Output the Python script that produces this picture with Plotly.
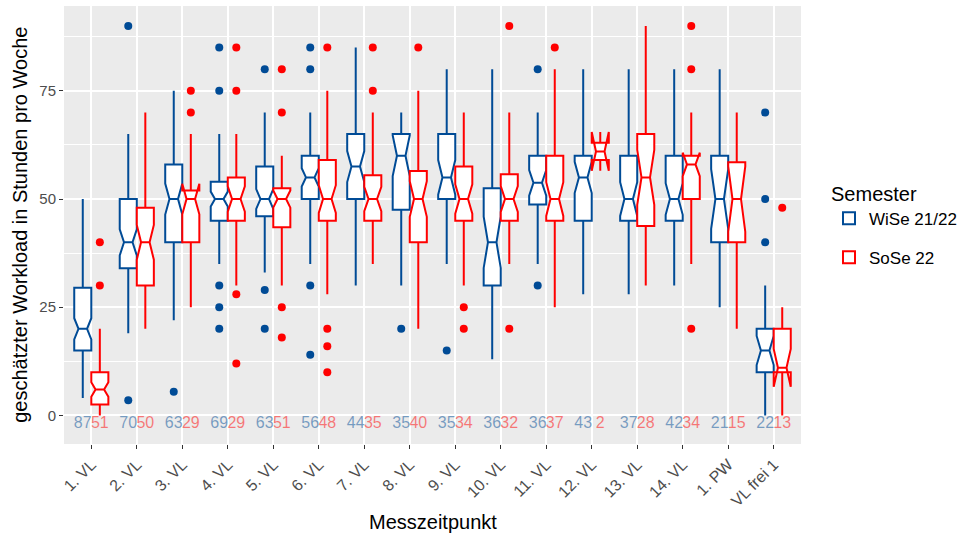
import math
import plotly.graph_objects as go

categories = ["1. VL", "2. VL", "3. VL", "4. VL", "5. VL", "6. VL", "7. VL", "8. VL",
              "9. VL", "10. VL", "11. VL", "12. VL", "13. VL", "14. VL", "1. PW", "VL frei 1"]

# WiSe 21/22
wise_lower = [4, 19, 22, 35, 33, 35, 30, 30, 35, 13, 35, 28, 28, 30, 25, 0]
wise_q1 = [15, 34, 40, 45, 46, 50, 50, 47.5, 50, 30, 48.75, 45, 45, 45, 40, 10]
wise_median = [20, 40, 50, 50, 50, 55, 57.5, 60, 55, 40, 53.75, 55, 50, 50, 50, 15]
wise_q3 = [29.5, 50, 58, 54, 57.5, 60, 65, 65, 65, 52.5, 60, 60, 60, 60, 60, 20]
wise_upper = [50, 65, 75, 65, 70, 70, 85, 70, 80, 80, 70, 80, 80, 80, 80, 30]
wise_n = [87, 70, 63, 69, 63, 56, 44, 35, 35, 36, 36, 43, 37, 42, 21, 22]
wise_outliers = [[], [90, 3.5], [5.5], [85, 75, 30, 25, 20], [80, 29, 20], [85, 80, 30, 14],
                 [], [20], [15], [], [80, 30], [], [], [], [], [70, 50, 40]]

# SoSe 22
sose_lower = [0, 20, 25, 30, 30, 28, 35, 20, 30, 35, 25, 57, 30, 35, 20, 0]
sose_q1 = [2.5, 30, 40, 45, 43.5, 45, 45, 40, 45, 45, 45, 59, 43.75, 50, 40, 10]
sose_median = [6, 40, 50, 50, 50, 50, 50, 50, 50, 50, 50, 61, 55, 58, 50, 11]
sose_q3 = [10, 48, 52, 55, 52.5, 59, 55.5, 56.5, 57.5, 55.75, 60, 63, 65, 60, 58.5, 20]
sose_upper = [20, 70, 65, 65, 60, 75, 70, 75, 70, 70, 80, 65, 90, 70, 70, 25]
sose_n = [51, 50, 29, 29, 51, 48, 35, 40, 34, 32, 37, 2, 28, 34, 15, 13]
sose_outliers = [[40, 30], [], [75, 70], [85, 75, 28, 12], [80, 70, 25, 18], [85, 20, 16, 10],
                 [85, 75], [85], [25, 20], [90, 20], [85], [], [], [90, 80, 20], [], [48]]

y_ticks = [0, 25, 50, 75]
count_y = -2

BLUE = "#004B96"
RED = "#FF0000"
BLUE_TXT = "rgba(0,75,150,0.5)"
RED_TXT = "rgba(255,0,0,0.5)"
FONT = "Liberation Sans, Arial, Helvetica, sans-serif"

pos = list(range(1, len(categories) + 1))
dodge = 0.1875
bw = 0.375

fig = go.Figure()

series = [
    ("WiSe 21/22", BLUE, BLUE_TXT, -dodge, wise_lower, wise_q1, wise_median, wise_q3, wise_upper, wise_n, wise_outliers),
    ("SoSe 22", RED, RED_TXT, dodge, sose_lower, sose_q1, sose_median, sose_q3, sose_upper, sose_n, sose_outliers),
]

for name, col, tcol, off, lo, q1, med, q3, up, n, outl in series:
    xs = [p + off for p in pos]
    notch = [1.58 * (b - a) / math.sqrt(k) for a, b, k in zip(q1, q3, n)]
    fig.add_trace(go.Box(
        name=name, x=xs, q1=q1, median=med, q3=q3, lowerfence=lo, upperfence=up,
        notchspan=notch, notched=True, notchwidth=0.25, width=bw, whiskerwidth=0,
        boxpoints=False, fillcolor="white", line=dict(color=col, width=2),
        legendgroup=name, showlegend=True,
    ))
    ox, oy = [], []
    for x, vals in zip(xs, outl):
        for v in vals:
            ox.append(x)
            oy.append(v)
    fig.add_trace(go.Scatter(
        x=ox, y=oy, mode="markers", marker=dict(color=col, size=8),
        showlegend=False, legendgroup=name, hoverinfo="skip",
    ))
    fig.add_trace(go.Scatter(
        x=xs, y=[count_y] * len(xs), mode="text", text=[str(k) for k in n],
        textfont=dict(color=tcol, size=16, family=FONT), textposition="middle center",
        showlegend=False, legendgroup=name, cliponaxis=False, hoverinfo="skip",
    ))

fig.update_layout(
    width=968, height=536,
    margin=dict(l=64, r=165, t=6, b=92),
    paper_bgcolor="white", plot_bgcolor="#EBEBEB",
    font=dict(family=FONT, color="#4D4D4D"),
    boxmode="overlay",
    legend=dict(
        title=dict(text="Semester", font=dict(size=20, color="black", family=FONT)),
        font=dict(size=17, color="black", family=FONT),
        x=1.038, xanchor="left", y=0.615, yanchor="top",
        bgcolor="rgba(0,0,0,0)", tracegroupgap=14,
    ),
    xaxis=dict(
        range=[0.4, len(categories) + 0.6], tickmode="array", tickvals=pos, ticktext=categories,
        tickangle=-45, tickfont=dict(size=16, color="#4D4D4D"),
        ticks="outside", ticklen=4, tickwidth=1.2, tickcolor="#333333",
        showgrid=True, gridcolor="white", gridwidth=2, zeroline=False, showline=False,
    ),
    yaxis=dict(
        range=[-6.6, 94.6], tickmode="array", tickvals=y_ticks,
        tickfont=dict(size=15, color="#4D4D4D"),
        ticks="outside", ticklen=4, tickwidth=1.2, tickcolor="#333333",
        showgrid=True, gridcolor="white", gridwidth=2, zeroline=False, showline=False,
        minor=dict(tickmode="linear", tick0=12.5, dtick=25, showgrid=True,
                   gridcolor="white", gridwidth=1, ticks=""),
    ),
    annotations=[
        dict(text="Messzeitpunkt", xref="paper", yref="paper", x=0.5, y=-0.177,
             yanchor="middle", xanchor="center", showarrow=False,
             font=dict(size=20, color="black", family=FONT)),
        dict(text="geschätzter Workload in Stunden pro Woche", xref="paper", yref="paper",
             x=-0.06, y=0.5, xanchor="center", yanchor="middle", textangle=-90,
             showarrow=False, font=dict(size=20, color="black", family=FONT)),
    ],
)

fig.write_html("out.html")
